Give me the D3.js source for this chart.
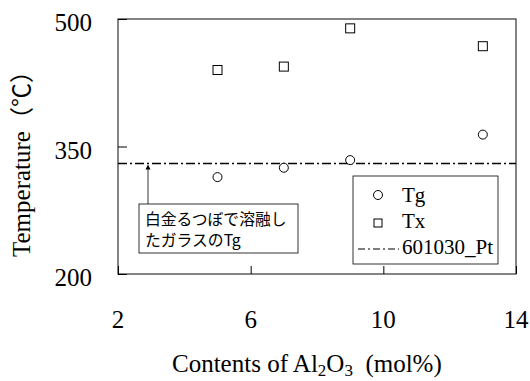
<!DOCTYPE html>
<html>
<head>
<meta charset="utf-8">
<script src="https://cdnjs.cloudflare.com/ajax/libs/d3/7.8.5/d3.min.js"></script>
<style>
  body { margin: 0; background: #fff; }
</style>
</head>
<body>
<div id="chart"></div>
<script>
// data
var alContent = [5, 7, 9, 13];
var tgValues = [314, 325, 334, 364];
var txValues = [440, 444, 489, 468];
var ptTg = 330;
var xTicks = [2, 6, 10, 14];
var yTicks = [200, 350, 500];

var serif = "'Liberation Serif', 'Times New Roman', Times, serif";
var jp = "'Noto Sans CJK JP', sans-serif";
var margin = {top: 19, right: 14, bottom: 107, left: 118};
const width = 530 - margin.left - margin.right;
const height = 381 - margin.top - margin.bottom;

var svg = d3.select("#chart").append("svg")
    .attr("width", 530)
    .attr("height", 381)
    .attr("font-family", serif)
    .append("g")
    .attr("transform", "translate(" + margin.left + "," + margin.top + ")");

const xScale = d3.scaleLinear().domain([2, 14]).range([0, width]);
const yScale = d3.scaleLinear().domain([200, 500]).range([height, 0]);

// frame
svg.append("rect")
    .attr("x", 0).attr("y", 0)
    .attr("width", width).attr("height", height)
    .attr("fill", "none")
    .attr("stroke", "#333")
    .attr("stroke-width", 1.2);

// axes with inward ticks
var xAxis = svg.append("g")
    .attr("transform", "translate(0," + height + ")")
    .call(d3.axisTop(xScale).tickValues(xTicks).tickSize(8).tickFormat(""));
xAxis.select(".domain").remove();

var yAxis = svg.append("g")
    .call(d3.axisRight(yScale).tickValues(yTicks).tickSize(9).tickFormat(""));
yAxis.select(".domain").remove();

svg.selectAll(".xlab")
    .data(xTicks)
    .enter().append("text")
    .attr("x", function(d) { return xScale(d); })
    .attr("y", 328 - margin.top)
    .style("text-anchor", "middle")
    .style("font-size", "25px")
    .text(function(d) { return d; });

svg.selectAll(".ylab")
    .data(yTicks)
    .enter().append("text")
    .attr("x", 92 - margin.left)
    .attr("y", function(d) { return yScale(d) + 12; })
    .style("text-anchor", "end")
    .style("font-size", "25px")
    .text(function(d) { return d; });

// axis titles
var xt = svg.append("text")
    .attr("x", 172 - margin.left)
    .attr("y", 372 - margin.top)
    .style("font-size", "25px");
xt.append("tspan").text("Contents of Al");
xt.append("tspan").attr("dy", 4).style("font-size", "17px").text("2");
xt.append("tspan").attr("dy", -4).text("O");
xt.append("tspan").attr("dy", 4).style("font-size", "17px").text("3");
xt.append("tspan").attr("dy", -4).text("\u00a0\u00a0(mol%)");

var yt = svg.append("text")
    .attr("transform", "translate(" + (30 - margin.left) + "," + (257 - margin.top) + ") rotate(-90)")
    .style("font-size", "25px");
yt.append("tspan").text("Temperature");
yt.append("tspan").style("font-family", jp).style("font-size", "24px").text("（℃）");

// reference line
svg.append("line")
    .attr("x1", 0).attr("x2", width)
    .attr("y1", yScale(ptTg)).attr("y2", yScale(ptTg))
    .attr("stroke", "#000")
    .attr("stroke-width", 1.5)
    .attr("stroke-dasharray", "9,3,2,3");

// Tg circles
svg.selectAll(".tg")
    .data(alContent)
    .enter().append("circle")
    .attr("class", "tg")
    .attr("cx", function(d) { return xScale(d); })
    .attr("cy", function(d, i) { return yScale(tgValues[i]); })
    .attr("r", 4.5)
    .attr("fill", "#fff")
    .attr("stroke", "#000")
    .attr("stroke-width", 1);

// Tx squares
svg.selectAll(".tx")
    .data(alContent)
    .enter().append("rect")
    .attr("class", "tx")
    .attr("x", function(d) { return xScale(d) - 4.5; })
    .attr("y", function(d, i) { return yScale(txValues[i]) - 4.5; })
    .attr("width", 9)
    .attr("height", 9)
    .attr("fill", "#fff")
    .attr("stroke", "#000")
    .attr("stroke-width", 1);

// annotation
var annX = 148 - margin.left;
svg.append("line")
    .attr("x1", annX).attr("x2", annX)
    .attr("y1", 204 - margin.top).attr("y2", yScale(ptTg) + 3)
    .attr("stroke", "#000")
    .attr("stroke-width", 0.8);
svg.append("path")
    .attr("d", "M" + (annX - 2.5) + "," + (yScale(ptTg) + 6) + " L" + annX + "," + (yScale(ptTg) + 1) + " L" + (annX + 2.5) + "," + (yScale(ptTg) + 6) + "Z")
    .attr("fill", "#000");
svg.append("rect")
    .attr("x", 139 - margin.left).attr("y", 204 - margin.top)
    .attr("width", 159).attr("height", 49)
    .attr("fill", "#fff")
    .attr("stroke", "#000")
    .attr("stroke-width", 0.8);
svg.append("text")
    .attr("x", 145 - margin.left).attr("y", 225 - margin.top)
    .attr("font-family", jp)
    .style("font-size", "15.8px")
    .text("白金るつぼで溶融し");
svg.append("text")
    .attr("x", 145 - margin.left).attr("y", 246 - margin.top)
    .attr("font-family", jp)
    .style("font-size", "15.8px")
    .text("たガラスのTg");

// legend
var lg = svg.append("g").attr("transform", "translate(" + (353 - margin.left) + "," + (176 - margin.top) + ")");
lg.append("rect")
    .attr("width", 145).attr("height", 88)
    .attr("fill", "#fff")
    .attr("stroke", "#000")
    .attr("stroke-width", 0.8);
lg.append("circle").attr("cx", 25).attr("cy", 19).attr("r", 4.5)
    .attr("fill", "#fff").attr("stroke", "#000");
lg.append("rect").attr("x", 21).attr("y", 43).attr("width", 8).attr("height", 8)
    .attr("fill", "#fff").attr("stroke", "#000");
lg.append("line").attr("x1", 5).attr("x2", 46).attr("y1", 73).attr("y2", 73)
    .attr("stroke", "#000").attr("stroke-width", 1.2).attr("stroke-dasharray", "7,3,2,3");
var lgText = ["Tg", "Tx", "601030_Pt"];
lg.selectAll(".lt")
    .data(lgText)
    .enter().append("text")
    .attr("x", 49)
    .attr("y", function(d, i) { return 26 + i * 26; })
    .style("font-size", "21px")
    .text(function(d) { return d; });
</script>
</body>
</html>
